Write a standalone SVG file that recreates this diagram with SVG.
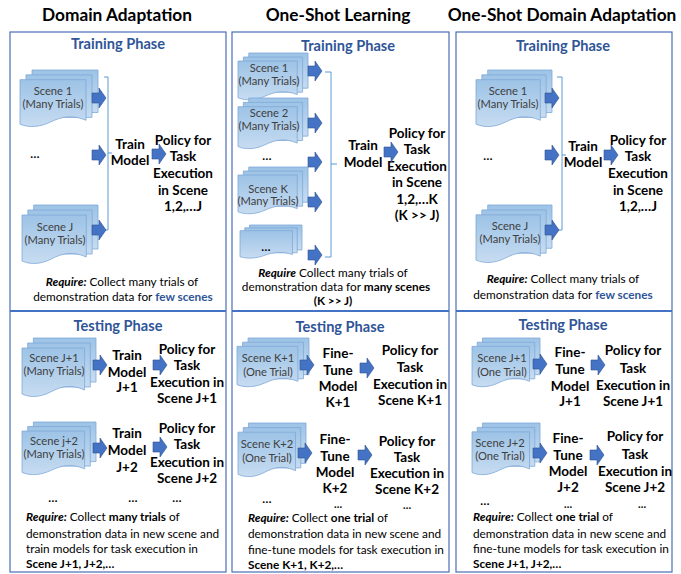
<svg xmlns="http://www.w3.org/2000/svg" xmlns:xlink="http://www.w3.org/1999/xlink" width="681" height="574" viewBox="0 0 681 574">
<style>
text{font-family:Lato,"Liberation Sans",sans-serif;fill:#000}
.title{font-size:17.3px;font-weight:700;text-anchor:middle}
.phase{font-size:14.6px;font-weight:700;fill:#2F5597;text-anchor:middle}
.doc{font-size:11.2px;fill:#404040;text-anchor:middle}
.lbl{font-size:13.5px;font-weight:700;text-anchor:middle}
.dots{font-size:12px;font-weight:700;text-anchor:middle}
.sdots{font-size:10.5px;font-weight:700;text-anchor:middle}
.req{font-size:11.8px}
.reqc{font-size:11.8px;text-anchor:middle}
.b{font-weight:700}
.bi{font-weight:700;font-style:italic}
.blue{fill:#2F5597}
.box{fill:#fff;stroke:#4A6FB5;stroke-width:1.2}
.div{stroke:#4472C4;stroke-width:2.2}
.brk{fill:none;stroke:#5B9BD5;stroke-width:1}
.pg{fill:url(#g);stroke:#7FA8D8;stroke-width:0.8;vector-effect:non-scaling-stroke}
.arr{fill:#4472C4;stroke:#2F528F;stroke-width:0.6}
</style>
<defs>
<linearGradient id="g" x1="0" y1="0" x2="0" y2="1">
<stop offset="0" stop-color="#9DC3E6"/>
<stop offset="1" stop-color="#C7DCF1"/>
</linearGradient>
<symbol id="stack" viewBox="0 0 78 60" preserveAspectRatio="none" overflow="visible">
<path class="pg" d="M12,0 H78 V44 H12 Z"/>
<path class="pg" d="M6,5 H72 V49 H6 Z"/>
<path class="pg" d="M0,10 H66 V52 C52,46 42,48 30,54 C20,59 9,60 0,56 Z"/>
</symbol>
<path id="arrow" class="arr" d="M0,-5 H7 V-10 L14,0 L7,10 V5 H0 Z"/>
</defs>

<!-- column boxes -->
<g id="col1-box"><rect class="box" x="10" y="32" width="216" height="540"/><line class="div" x1="10" y1="311" x2="226" y2="311"/></g>
<g id="col2-box"><rect class="box" x="232" y="32" width="217" height="540"/><line class="div" x1="232" y1="311" x2="449" y2="311"/></g>
<g id="col3-box"><rect class="box" x="456" y="32" width="216" height="540"/><line class="div" x1="456" y1="311" x2="672" y2="311"/></g>

<!-- titles -->
<g id="titles">
<text class="title" x="117" y="21">Domain Adaptation</text>
<text class="title" x="338" y="21">One-Shot Learning</text>
<text class="title" x="562" y="21">One-Shot Domain Adaptation</text>
<text class="phase" x="118" y="49">Training Phase</text>
<text class="phase" x="348" y="51">Training Phase</text>
<text class="phase" x="563" y="51">Training Phase</text>
<text class="phase" x="118" y="331">Testing Phase</text>
<text class="phase" x="340" y="332">Testing Phase</text>
<text class="phase" x="563" y="330">Testing Phase</text>
</g>

<!-- ===== Column 1: Domain Adaptation ===== -->
<g id="c1-scene1"><use href="#stack" x="20" y="70" width="78" height="58"/>
<text class="doc" x="53" y="95">Scene 1</text><text class="doc" x="53" y="108">(Many Trials)</text></g>
<g id="c1-dots"><text class="dots" x="35" y="158">…</text></g>
<g id="c1-sceneJ"><use href="#stack" x="22" y="205" width="76" height="60"/>
<text class="doc" x="55" y="231">Scene J</text><text class="doc" x="55" y="244">(Many Trials)</text></g>
<g id="c1-train"><text class="lbl" x="130" y="149">Train</text><text class="lbl" x="130" y="165">Model</text></g>
<g id="c1-policy"><text class="lbl" x="183" y="145">Policy for</text><text class="lbl" x="183" y="161">Task</text><text class="lbl" x="183" y="178">Execution</text><text class="lbl" x="183" y="195">in Scene</text><text class="lbl" x="183" y="211">1,2,…J</text></g>
<g id="c1-req"><text class="reqc" x="122" y="286"><tspan class="bi">Require:</tspan>  Collect many trials of</text>
<text class="reqc" x="123" y="301">demonstration data for <tspan class="blue b">few scenes</tspan></text></g>

<g id="c1-sceneJ1"><use href="#stack" x="22" y="338" width="74" height="60"/>
<text class="doc" x="54" y="362">Scene J+1</text><text class="doc" x="54" y="375">(Many Trials)</text></g>
<g id="c1-trainJ1"><text class="lbl" x="127" y="360">Train</text><text class="lbl" x="127" y="377">Model</text><text class="lbl" x="127" y="392">J+1</text></g>
<g id="c1-policyJ1"><text class="lbl" x="187" y="354">Policy for</text><text class="lbl" x="187" y="370">Task</text><text class="lbl" x="187" y="387">Execution in</text><text class="lbl" x="187" y="403">Scene J+1</text></g>
<g id="c1-sceneJ2"><use href="#stack" x="22" y="422" width="74" height="54"/>
<text class="doc" x="54" y="445">Scene j+2</text><text class="doc" x="54" y="458">(Many Trials)</text></g>
<g id="c1-trainJ2"><text class="lbl" x="127" y="438">Train</text><text class="lbl" x="127" y="455">Model</text><text class="lbl" x="127" y="472">J+2</text></g>
<g id="c1-policyJ2"><text class="lbl" x="187" y="433">Policy for</text><text class="lbl" x="187" y="449">Task</text><text class="lbl" x="187" y="467">Execution in</text><text class="lbl" x="187" y="483">Scene J+2</text></g>
<g id="c1-testdots"><text class="dots" x="53" y="502">…</text><text class="dots" x="133" y="502">…</text><text class="dots" x="177" y="502">…</text></g>
<g id="c1-req2">
<text class="req" x="26" y="521"><tspan class="bi">Require:</tspan> Collect <tspan class="b">many trials</tspan> of</text>
<text class="req" x="26" y="538">demonstration data in new scene and</text>
<text class="req" x="26" y="553">train models for task execution in</text>
<text class="req b" x="26" y="568">Scene J+1, J+2,…</text></g>

<!-- ===== Column 2: One-Shot Learning ===== -->
<g id="c2-scene1"><use href="#stack" x="238" y="53" width="70" height="48"/>
<text class="doc" x="269" y="72">Scene 1</text><text class="doc" x="269" y="85">(Many Trials)</text></g>
<g id="c2-scene2"><use href="#stack" x="238" y="98" width="70" height="52"/>
<text class="doc" x="269" y="117">Scene 2</text><text class="doc" x="269" y="130">(Many Trials)</text></g>
<g id="c2-dots"><text class="dots" x="267" y="160">…</text></g>
<g id="c2-sceneK"><use href="#stack" x="238" y="167" width="70" height="48"/>
<text class="doc" x="268" y="193">Scene K</text><text class="doc" x="268" y="205">(Many Trials)</text></g>
<g id="c2-sceneMore"><use href="#stack" x="240" y="225" width="62" height="34"/>
<text class="dots" x="266" y="251">…</text></g>
<g id="c2-train"><text class="lbl" x="363" y="150">Train</text><text class="lbl" x="363" y="167">Model</text></g>
<g id="c2-policy"><text class="lbl" x="417" y="138">Policy for</text><text class="lbl" x="417" y="154">Task</text><text class="lbl" x="417" y="171">Execution</text><text class="lbl" x="417" y="187">in Scene</text><text class="lbl" x="417" y="204">1,2,…K</text><text class="lbl" x="417" y="220">(K &gt;&gt; J)</text></g>
<g id="c2-req"><text class="reqc" x="333" y="277"><tspan class="bi">Require</tspan> Collect many trials of</text>
<text class="reqc" x="336" y="291">demonstration data for <tspan class="b">many scenes</tspan></text>
<text class="reqc b" x="333" y="305">(K &gt;&gt; J)</text></g>

<g id="c2-sceneK1"><use href="#stack" x="237" y="338" width="72" height="50"/>
<text class="doc" x="268" y="362">Scene K+1</text><text class="doc" x="268" y="376">(One Trial)</text></g>
<g id="c2-tuneK1"><text class="lbl" x="338" y="358">Fine-</text><text class="lbl" x="338" y="375">Tune</text><text class="lbl" x="338" y="391">Model</text><text class="lbl" x="338" y="407">K+1</text></g>
<g id="c2-policyK1"><text class="lbl" x="410" y="355">Policy for</text><text class="lbl" x="410" y="372">Task</text><text class="lbl" x="410" y="389">Execution in</text><text class="lbl" x="410" y="405">Scene K+1</text></g>
<g id="c2-sceneK2"><use href="#stack" x="238" y="423" width="68" height="55"/>
<text class="doc" x="267" y="448">Scene K+2</text><text class="doc" x="267" y="462">(One Trial)</text></g>
<g id="c2-tuneK2"><text class="lbl" x="335" y="444">Fine-</text><text class="lbl" x="335" y="461">Tune</text><text class="lbl" x="335" y="477">Model</text><text class="lbl" x="335" y="493">K+2</text></g>
<g id="c2-policyK2"><text class="lbl" x="407" y="446">Policy for</text><text class="lbl" x="407" y="462">Task</text><text class="lbl" x="407" y="478">Execution in</text><text class="lbl" x="407" y="494">Scene K+2</text></g>
<g id="c2-testdots"><text class="dots" x="267" y="503">…</text><text class="sdots" x="338" y="508">…</text><text class="sdots" x="407" y="509">…</text></g>
<g id="c2-req2">
<text class="req" x="248" y="522"><tspan class="bi">Require:</tspan> Collect <tspan class="b">one trial</tspan> of</text>
<text class="req" x="248" y="538">demonstration data in new scene and</text>
<text class="req" x="248" y="554">fine-tune models for task execution in</text>
<text class="req b" x="248" y="569">Scene K+1, K+2,…</text></g>

<!-- ===== Column 3: One-Shot Domain Adaptation ===== -->
<g id="c3-scene1"><use href="#stack" x="476" y="70" width="76" height="58"/>
<text class="doc" x="508" y="95">Scene 1</text><text class="doc" x="508" y="108">(Many Trials)</text></g>
<g id="c3-dots"><text class="dots" x="488" y="160">…</text></g>
<g id="c3-sceneJ"><use href="#stack" x="476" y="205" width="76" height="59"/>
<text class="doc" x="510" y="230">Scene J</text><text class="doc" x="510" y="243">(Many Trials)</text></g>
<g id="c3-train"><text class="lbl" x="583" y="151">Train</text><text class="lbl" x="583" y="167">Model</text></g>
<g id="c3-policy"><text class="lbl" x="638" y="145">Policy for</text><text class="lbl" x="638" y="161">Task</text><text class="lbl" x="638" y="178">Execution</text><text class="lbl" x="638" y="195">in Scene</text><text class="lbl" x="638" y="211">1,2,…J</text></g>
<g id="c3-req"><text class="reqc" x="563" y="283"><tspan class="bi">Require:</tspan>  Collect many trials of</text>
<text class="reqc" x="563" y="299">demonstration data for <tspan class="blue b">few scenes</tspan></text></g>

<g id="c3-sceneJ1"><use href="#stack" x="472" y="338" width="68" height="50"/>
<text class="doc" x="502" y="362">Scene J+1</text><text class="doc" x="502" y="376">(One Trial)</text></g>
<g id="c3-tuneJ1"><text class="lbl" x="570" y="357">Fine-</text><text class="lbl" x="570" y="374">Tune</text><text class="lbl" x="570" y="391">Model</text><text class="lbl" x="570" y="406">J+1</text></g>
<g id="c3-policyJ1"><text class="lbl" x="633" y="355">Policy for</text><text class="lbl" x="633" y="373">Task</text><text class="lbl" x="633" y="390">Execution in</text><text class="lbl" x="633" y="406">Scene J+1</text></g>
<g id="c3-sceneJ2"><use href="#stack" x="472" y="423" width="68" height="53"/>
<text class="doc" x="500" y="447">Scene J+2</text><text class="doc" x="500" y="460">(One Trial)</text></g>
<g id="c3-tuneJ2"><text class="lbl" x="568" y="443">Fine-</text><text class="lbl" x="568" y="460">Tune</text><text class="lbl" x="568" y="476">Model</text><text class="lbl" x="568" y="492">J+2</text></g>
<g id="c3-policyJ2"><text class="lbl" x="635" y="441">Policy for</text><text class="lbl" x="635" y="459">Task</text><text class="lbl" x="635" y="476">Execution in</text><text class="lbl" x="635" y="492">Scene J+2</text></g>
<g id="c3-testdots"><text class="dots" x="485" y="505">…</text><text class="sdots" x="568" y="508">…</text><text class="sdots" x="642" y="508">…</text></g>
<g id="c3-req2">
<text class="req" x="473" y="521"><tspan class="bi">Require:</tspan> Collect <tspan class="b">one trial</tspan> of</text>
<text class="req" x="473" y="538">demonstration data in new scene and</text>
<text class="req" x="473" y="553">fine-tune models for task execution in</text>
<text class="req b" x="473" y="568">Scene J+1, J+2,…</text></g>

<!-- ===== connectors ===== -->
<g id="connectors">
<path class="brk" d="M104,77 H108 V230 H104 M108,153 H112"/>
<path class="brk" d="M325,72 H331 V257 H325 M331,164 H337"/>
<path class="brk" d="M557,77 H562 V230 H557 M562,155 H566"/>
<use href="#arrow" x="92" y="98"/>
<use href="#arrow" x="92" y="155"/>
<use href="#arrow" x="92" y="230"/>
<use href="#arrow" x="152" y="154"/>
<use href="#arrow" x="308" y="71"/>
<use href="#arrow" x="308" y="123"/>
<use href="#arrow" x="308" y="162"/>
<use href="#arrow" x="308" y="202"/>
<use href="#arrow" x="308" y="255"/>
<use href="#arrow" x="384" y="152"/>
<use href="#arrow" x="545" y="98"/>
<use href="#arrow" x="545" y="155"/>
<use href="#arrow" x="545" y="230"/>
<use href="#arrow" x="604" y="155"/>
<use href="#arrow" x="93" y="365"/>
<use href="#arrow" x="153" y="365"/>
<use href="#arrow" x="93" y="448"/>
<use href="#arrow" x="153" y="447"/>
<use href="#arrow" x="300" y="365"/>
<use href="#arrow" x="360" y="368"/>
<use href="#arrow" x="298" y="453"/>
<use href="#arrow" x="358" y="455"/>
<use href="#arrow" x="533" y="364"/>
<use href="#arrow" x="591" y="365"/>
<use href="#arrow" x="533" y="453"/>
<use href="#arrow" x="590" y="455"/>
</g>
</svg>
